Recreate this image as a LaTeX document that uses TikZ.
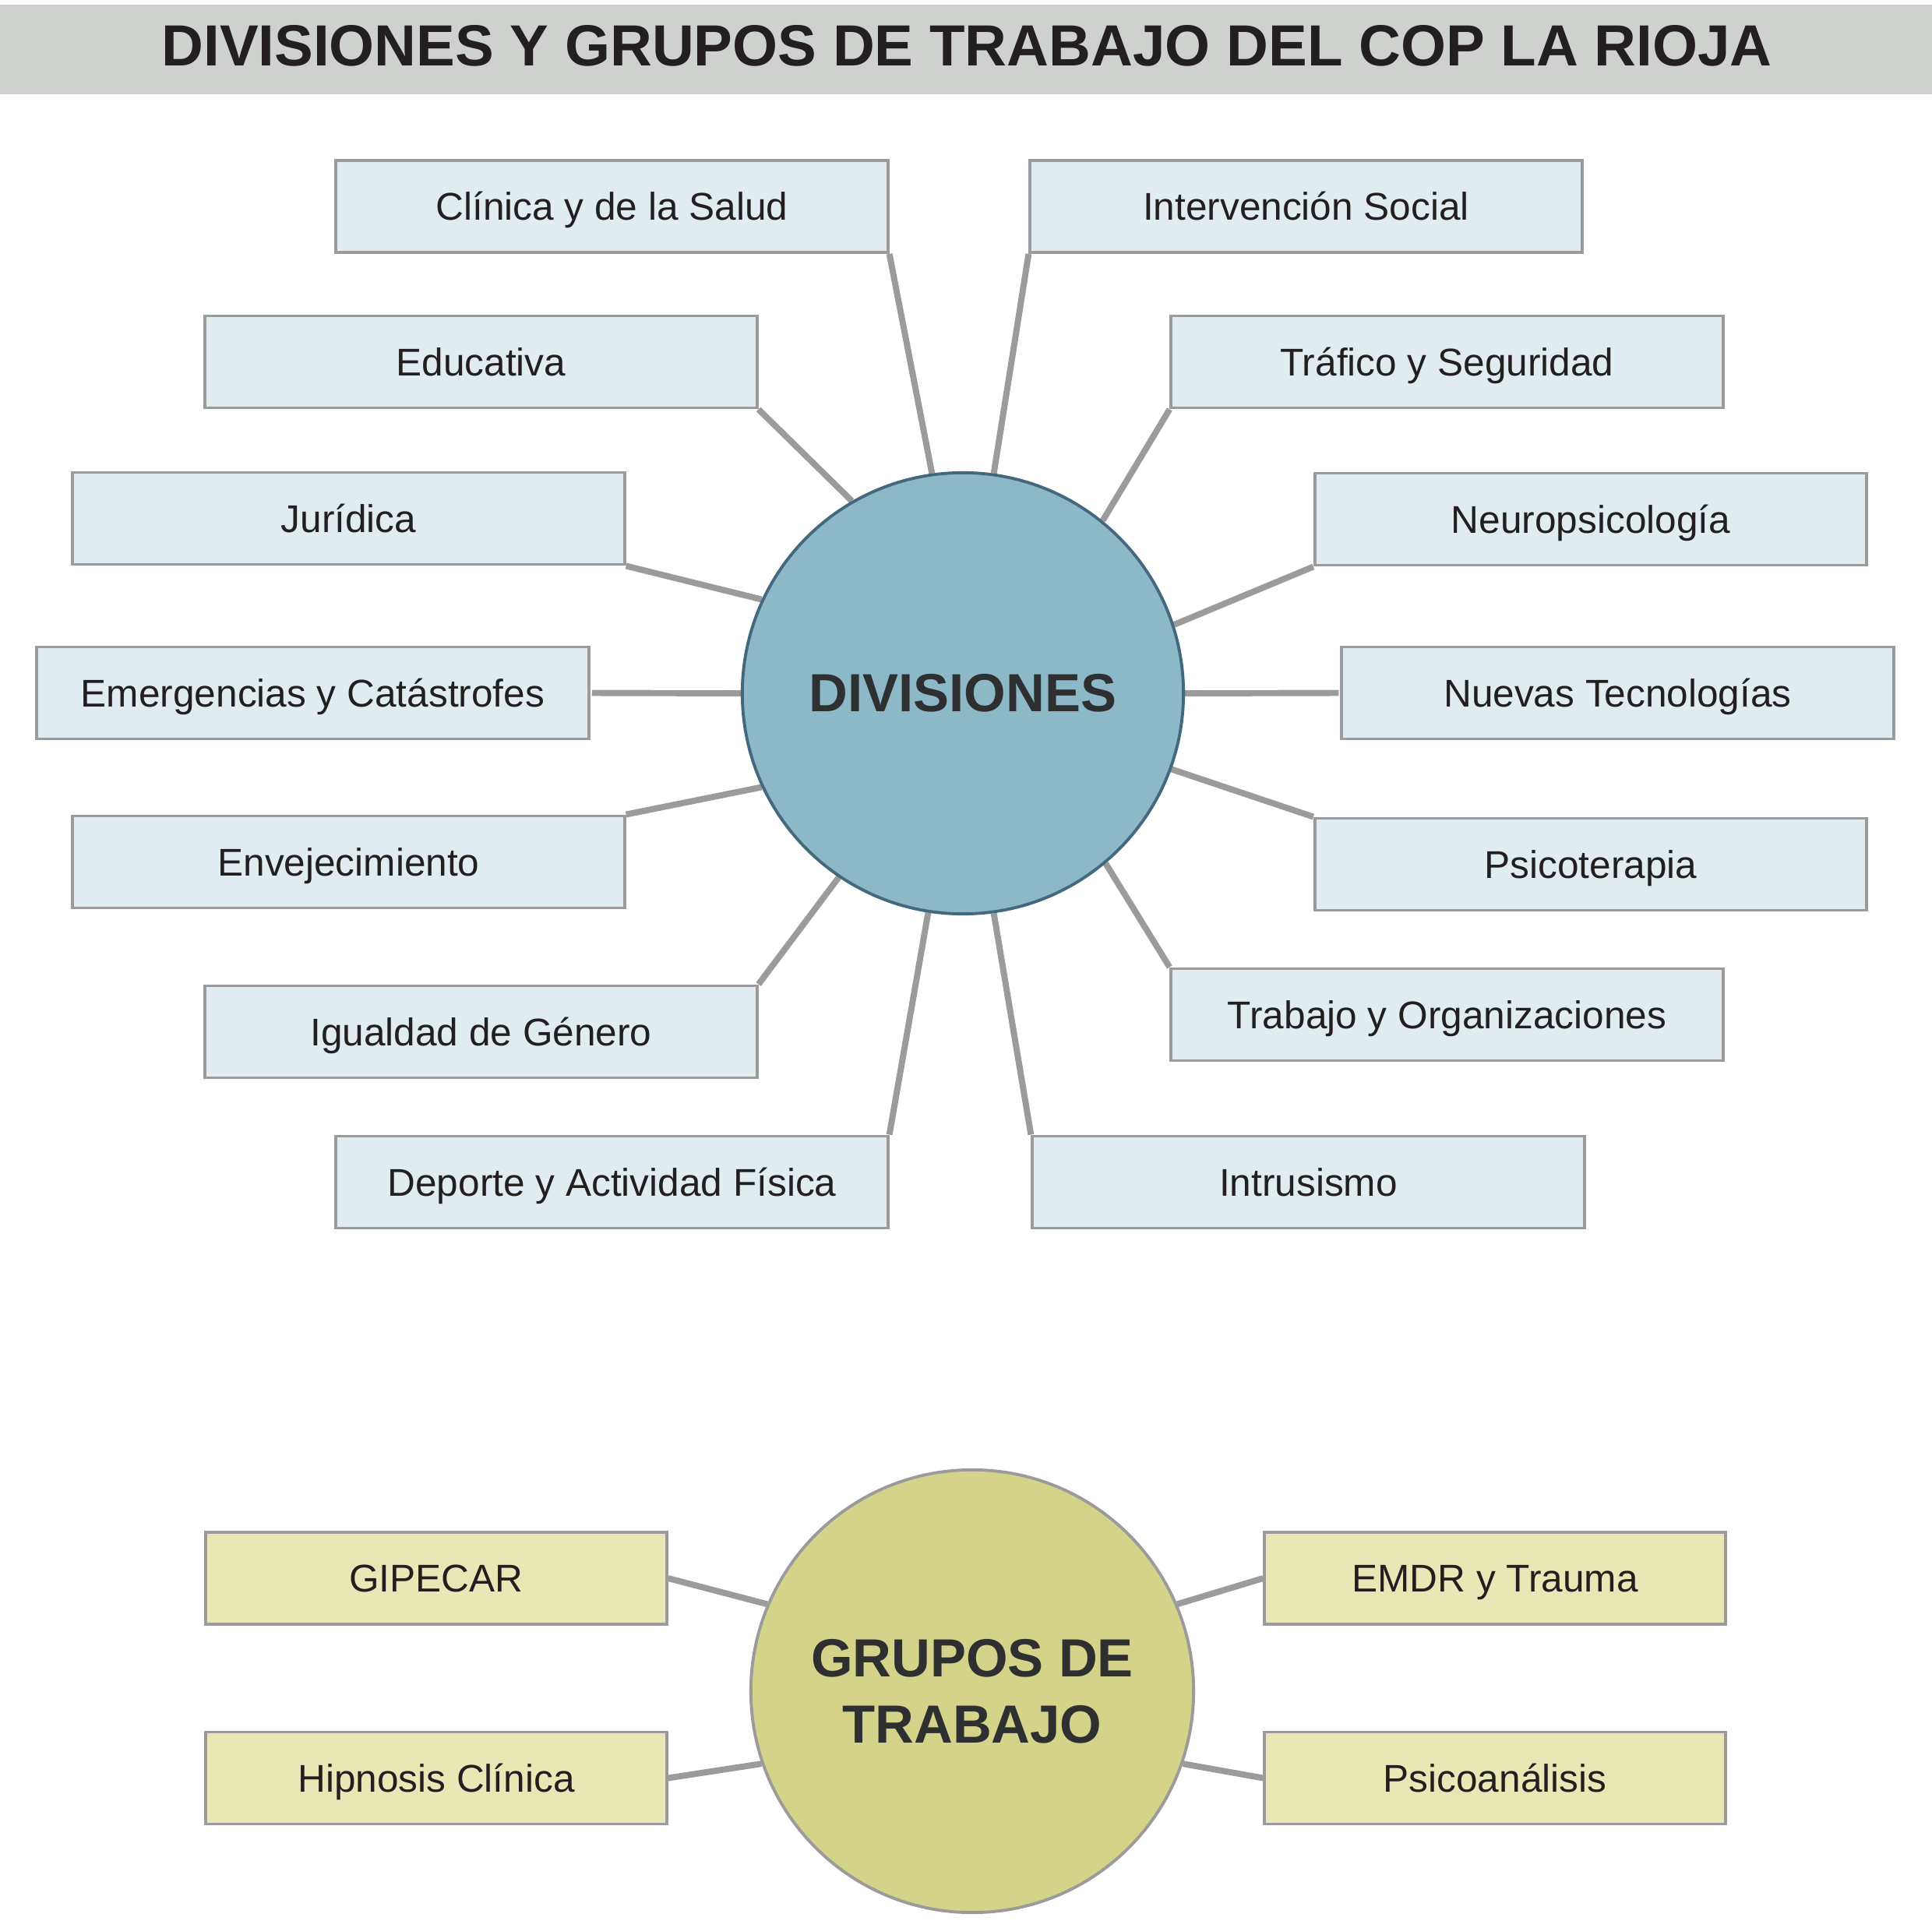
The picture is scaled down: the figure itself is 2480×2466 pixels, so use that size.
\documentclass[tikz,border=0pt]{standalone}
\usepackage{fontspec}
\setmainfont{Liberation Sans}
\usetikzlibrary{positioning, calc, backgrounds}
\definecolor{titlebg}{HTML}{CFD1CE}
\definecolor{titletext}{HTML}{231F20}
\definecolor{divbg}{HTML}{8CB8C8}
\definecolor{divborder}{HTML}{44697E}
\definecolor{divboxbg}{HTML}{E1ECF0}
\definecolor{grupobg}{HTML}{D3D48A}
\definecolor{grupoboxbg}{HTML}{E8E7B6}
\definecolor{linkcol}{HTML}{9B9B9B}
\definecolor{hubtext}{HTML}{2E2F31}

\begin{document}
\begin{tikzpicture}[
    x=0.01cm, y=-0.01cm,
    % 1. 标题栏
    titlebar/.style={
        fill=titlebg,
        minimum width=24.8cm,
        minimum height=1.15cm,
        inner sep=0pt
    },
    % 2. 分支卡片
    divbox/.style={
        draw=linkcol,
        line width=1.1pt,
        fill=divboxbg,
        minimum width=7.08cm,
        minimum height=1.18cm,
        inner sep=0pt,
        text=titletext,
        font=\fontsize{14.1}{17}\selectfont,
        text height=10.1pt,
        text depth=0pt
    },
    grupobox/.style={
        divbox,
        fill=grupoboxbg,
        minimum width=5.91cm
    },
    % 3. 中心圆
    hub/.style={
        circle,
        minimum size=5.66cm,
        line width=1.1pt,
        inner sep=0pt,
        align=center,
        text=hubtext,
        font=\fontsize{19.6}{24.2}\selectfont\bfseries
    },
    % 连接线
    link/.style={
        draw=linkcol,
        line width=2.25pt
    }
]
    \useasboundingbox (0,0) rectangle (2480,2466);

    % --- 1. 标题 ---
    \node[titlebar] (bar) at (1240,63.5) {};
    \node[font=\fontsize{21.2}{25}\selectfont\bfseries, text=titletext] (title) at (1241,59)
        {DIVISIONES Y GRUPOS DE TRABAJO DEL COP LA RIOJA};

    % --- 2. 中心圆 ---
    \node[hub, fill=divbg, draw=divborder] (div) at (1236,890) {DIVISIONES};
    \node[hub, fill=grupobg, draw=linkcol, minimum size=5.68cm] (grupos) at (1248,2171) {GRUPOS DE\\TRABAJO};

    % --- 3. 左侧 Divisiones ---
    \node[divbox] (clinica) at (785.5,265) {Clínica y de la Salud};
    \node[divbox] (educativa) at (617.5,464.5) {Educativa};
    \node[divbox] (juridica) at (447.5,665.5) {Jurídica};
    \node[divbox] (emergencias) at (401.5,889.5) {Emergencias y Catástrofes};
    \node[divbox] (envejecimiento) at (447.5,1106.5) {Envejecimiento};
    \node[divbox] (igualdad) at (617.5,1324.5) {Igualdad de Género};
    \node[divbox] (deporte) at (785.5,1517.5) {Deporte y Actividad Física};

    % --- 4. 右侧 Divisiones ---
    \node[divbox] (intervencion) at (1676.5,265) {Intervención Social};
    \node[divbox] (trafico) at (1857.5,464.5) {Tráfico y Seguridad};
    \node[divbox] (neuro) at (2042,666.5) {Neuropsicología};
    \node[divbox] (nuevas) at (2076.5,889.5) {Nuevas Tecnologías};
    \node[divbox] (psicoterapia) at (2042,1109.5) {Psicoterapia};
    \node[divbox] (trabajo) at (1857.5,1302.5) {Trabajo y Organizaciones};
    \node[divbox] (intrusismo) at (1679.5,1517.5) {Intrusismo};

    % --- 5. Grupos de trabajo ---
    \node[grupobox] (gipecar) at (560,2026) {GIPECAR};
    \node[grupobox] (hipnosis) at (560,2282.5) {Hipnosis Clínica};
    \node[grupobox] (emdr) at (1919,2026) {EMDR y Trauma};
    \node[grupobox] (psicoanalisis) at (1919,2282.5) {Psicoanálisis};

    % --- 6. 连接线（放在底层） ---
    \begin{pgfonlayer}{background}
        \draw[link] (clinica.south east) -- (div.98);
        \draw[link] (educativa.south east) -- (div.120);
        \draw[link] (juridica.south east) -- (div.155);
        \draw[link, shorten <=0.6pt] (emergencias.east) -- (div.west);
        \draw[link] (envejecimiento.north east) -- (div.205);
        \draw[link] (igualdad.north east) -- (div.236);
        \draw[link] (deporte.north east) -- (div.261);

        \draw[link] (intervencion.south west) -- (div.82);
        \draw[link] (trafico.south west) -- (div.51);
        \draw[link] (neuro.south west) -- (div.18);
        \draw[link, shorten <=0.6pt] (nuevas.west) -- (div.east);
        \draw[link] (psicoterapia.north west) -- (div.340);
        \draw[link] (trabajo.north west) -- (div.310);
        \draw[link] (intrusismo.north west) -- (div.278);

        \draw[link] (gipecar.east) -- (grupos.157);
        \draw[link] (hipnosis.east) -- (grupos.199);
        \draw[link] (emdr.west) -- (grupos.23);
        \draw[link] (psicoanalisis.west) -- (grupos.341);
    \end{pgfonlayer}

\end{tikzpicture}
\end{document}
